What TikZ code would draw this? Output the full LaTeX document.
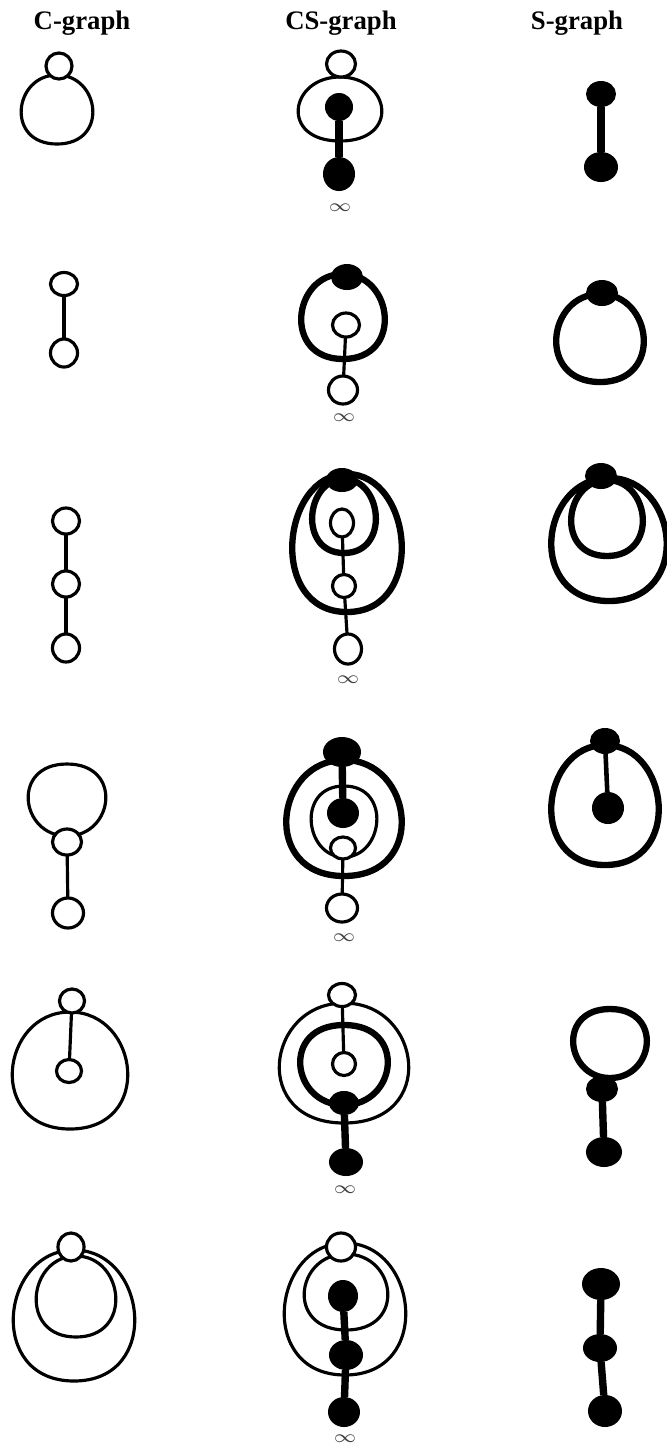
\documentclass[tikz,border=0pt]{standalone}
\usepackage{fontspec}
\setmainfont{Liberation Serif}
\usetikzlibrary{shapes.geometric,calc,backgrounds}

\begin{document}
\begin{tikzpicture}[x=0.01cm,y=-0.01cm,line join=round,
 wnode/.style={ellipse,draw,fill=white,line width=.9pt,inner sep=0pt,outer sep=0pt},
 bnode/.style={ellipse,fill=black,inner sep=0pt,outer sep=0pt},
 sz/.style 2 args={minimum width=#1*0.02cm,minimum height=#2*0.02cm},
 cline/.style={line width=.9pt},
 sline/.style={line width=1.8pt},
 medge/.style={line width=1.3pt},
 sedge/.style={line width=2.1pt},
 head/.style={font=\bfseries\fontsize{7.6}{9}\selectfont,anchor=base},
 inf/.style={font=\fontsize{5}{6}\selectfont,text=black!75,inner sep=0pt}]
 \useasboundingbox (0,0) rectangle (667,1447);
 \node[head] (hc) at (82,29) {C-graph};
 \node[head] (hcs) at (341,29) {CS-graph};
 \node[head] (hs) at (577,29) {S-graph};
 \foreach \n/\x/\y/\a/\b in {c1a/59/66/13/13,c2a/64/284/13.5/11.5,c2b/64/353/13.5/14,
  c3a/66/521/13.5/13,c3b/66/584/13.5/13,c3c/66/648/13.5/14,c4a/67/842/14.5/13,c4b/68/913/15.5/15,
  c5a/72/1001/12.5/12,c5b/69/1071/12.5/11.5,c6a/71/1247/13/14,
  cs1a/341/64/14.5/13,cs2b/346/325/13.5/12,cs2c/343/390/14.5/14,cs3b/342/523/11.5/14,
  cs3c/344/586/11.5/11.5,cs3d/348/649/13.5/15,cs4c/343/848/12.5/11,cs4d/342/908/15.5/14,
  cs5a/342/995/13.5/11.5,cs5b/344/1064/11.5/11.5,cs6a/341/1247/14.5/14}
  \node[wnode,sz={\a}{\b}] (\n) at (\x,\y) {};
 \foreach \n/\x/\y/\a/\b in {cs1b/339/107/14/14,cs1c/339/174/16/17,s1a/601/94/15/13,s1b/601/167/17/15,
  cs2a/347/277/16/13,s2a/602/293/16/13,cs3a/342/480/16/12,s3a/601/476/16/13,
  cs4a/342/752/19/15,cs4b/343/813/16/15,s4a/605/741/15/13,s4b/608/808/16/16,
  cs5c/344/1103/15/12,cs5d/346/1162/17/14,s5a/602/1089/16/13,s5b/604/1152/18/15,
  cs6b/343/1296/15/16,cs6c/346/1355/17/15,cs6d/344/1412/16/15,
  s6a/601/1284/19/16,s6b/600/1348/17/14,s6c/605/1411/17/16}
  \node[bnode,sz={\a}{\b}] (\n) at (\x,\y) {};
 \foreach \n/\x/\y in {i1/340/208,i2/344/418,i3/348/680,i4/344/938,i5/345/1190,i6/345/1439}
  \node[inf] (\n) at (\x,\y) {$\infty$};
 \begin{pgfonlayer}{background}
 \foreach \a/\b/\s in {cs1b/cs1c/sedge,s1a/s1b/sedge,c2a/c2b/cline,cs2b/cs2c/cline,
  c3a/c3b/cline,c3b/c3c/cline,cs3b/cs3c/cline,cs3c/cs3d/cline,c4a/c4b/cline,cs4a/cs4b/sedge,
  cs4c/cs4d/cline,s4a/s4b/medge,c5a/c5b/cline,cs5a/cs5b/cline,cs5c/cs5d/sedge,s5a/s5b/sedge,
  cs6b/cs6c/sedge,cs6c/cs6d/sedge,s6a/s6b/sedge,s6b/s6c/sedge}
  \draw[\s] (\a) -- (\b);
 \foreach \n/\dx/\dy/\w/\h/\s in {c1a/-2/9/36/69/cline,cs1a/-1/13/42/64/cline,
  cs2a/-4/-3/42/85/sline,s2a/-2/1/44/88/sline,
  cs3a/5/-6/55/138/sline,cs3a/2/-1/32/74/sline,s3a/8/2/58/123/sline,s3a/6/4/36/76/sline,
  c4a/0/-6/39/-72/cline,cs4a/2/8/58/116/sline,cs4c/1/9/33/-71/cline,s4a/0/4/54/120/sline,
  c5a/-2/11/58/117/cline,cs5a/2/8/65/120/cline,cs5c/0/2/44/-80/sline,s5a/8/-11/37/-69/sline,
  c6a/3/3/61/131/cline,c6a/5/9/40/81/cline,cs6a/4/-4/61/132/cline,cs6a/5/7/42/76/cline}
  \draw[\s] ($(\n)+(\dx,\dy)$) .. controls ($(\n)+(\dx-1.2*\w,\dy)$) and ($(\n)+(\dx-1.45*\w,\dy+\h)$)
   .. ($(\n)+(\dx,\dy+\h)$) .. controls ($(\n)+(\dx+1.45*\w,\dy+\h)$) and ($(\n)+(\dx+1.2*\w,\dy)$)
   .. ($(\n)+(\dx,\dy)$);
 \end{pgfonlayer}
\end{tikzpicture}
\end{document}
